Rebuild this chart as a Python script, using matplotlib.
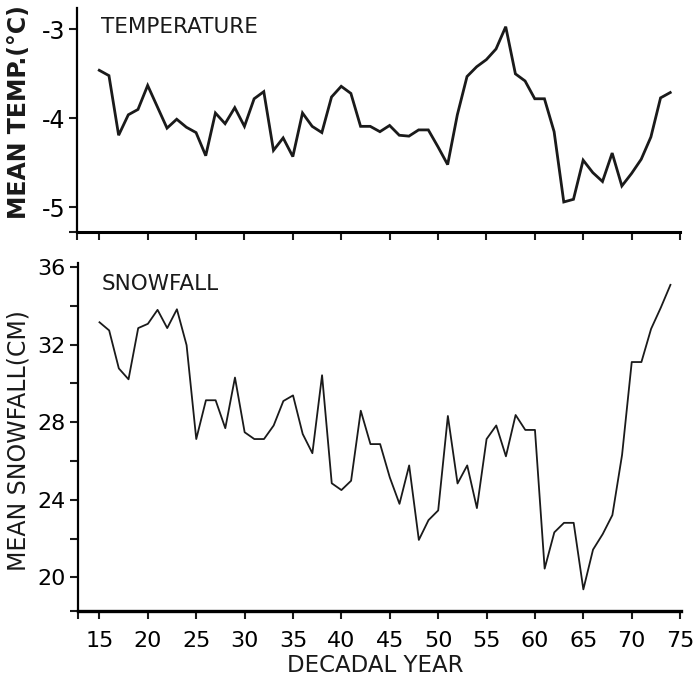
import matplotlib
matplotlib.use("Agg")
import matplotlib.pyplot as plt
from matplotlib.ticker import FixedLocator

# decadal years (mid-year of each 10-yr running window)
years = list(range(15, 75))

mean_temp = [
    -3.46, -3.52, -4.19, -3.96, -3.90, -3.63, -3.87, -4.11, -4.01, -4.10,
    -4.16, -4.42, -3.94, -4.06, -3.88, -4.09, -3.78, -3.70, -4.36, -4.22,
    -4.43, -3.94, -4.09, -4.16, -3.76, -3.64, -3.72, -4.09, -4.09, -4.15,
    -4.08, -4.19, -4.20, -4.13, -4.13, -4.32, -4.52, -3.96, -3.53, -3.42,
    -3.34, -3.22, -2.97, -3.50, -3.58, -3.78, -3.78, -4.15, -4.94, -4.91,
    -4.47, -4.61, -4.71, -4.39, -4.76, -4.62, -4.46, -4.21, -3.77, -3.71,
]

mean_snow = [
    33.15, 32.73, 30.77, 30.21, 32.85, 33.07, 33.79, 32.85, 33.82, 31.97,
    27.13, 29.13, 29.13, 27.69, 30.30, 27.48, 27.13, 27.13, 27.83, 29.09,
    29.38, 27.39, 26.40, 30.42, 24.85, 24.50, 24.98, 28.59, 26.87, 26.87,
    25.15, 23.79, 25.77, 21.93, 22.95, 23.45, 28.32, 24.84, 25.77, 23.57,
    27.13, 27.83, 26.24, 28.37, 27.60, 27.60, 20.45, 22.32, 22.81, 22.81,
    19.38, 21.43, 22.23, 23.21, 26.31, 31.10, 31.10, 32.81, 33.90, 35.08,
]

xticks = list(range(15, 80, 5))
temp_ticks = [-5, -4, -3]
snow_ticks = [20, 24, 28, 32, 36]
snow_minor = [22, 26, 30, 34]

XLIM = (12.73, 75.05)
TEMP_LIM = (-5.274, -2.76)
SNOW_LIM = (18.28, 36.19)

FONT = "DejaVu Sans"


def style_axis(ax, lw):
    ax.spines["top"].set_visible(False)
    ax.spines["right"].set_visible(False)
    ax.spines["left"].set_linewidth(1.6)
    ax.spines["bottom"].set_linewidth(lw)
    ax.tick_params(which="both", direction="out", width=1.5, length=5.5,
                   color="#1a1a1a", labelsize=16, pad=3)
    ax.set_xlim(*XLIM)
    ax.set_xticks(xticks)
    ax.xaxis.set_minor_locator(FixedLocator([XLIM[0]]))


fig = plt.figure(figsize=(6.94, 6.90), dpi=100)
plt.rcParams["font.family"] = FONT

ax1 = fig.add_axes([0.1114, 0.6642, 0.869, 0.3242])
ax2 = fig.add_axes([0.1117, 0.1149, 0.869, 0.5035])

# temperature panel
ax1.plot(years, mean_temp, color="#1a1a1a", lw=2.0, solid_joinstyle="miter")
style_axis(ax1, 2.2)
ax1.set_ylim(*TEMP_LIM)
ax1.set_yticks(temp_ticks)
ax1.set_yticklabels([str(t) for t in temp_ticks])
ax1.yaxis.set_minor_locator(FixedLocator([TEMP_LIM[0]]))
ax1.tick_params(axis="x", labelbottom=False)
ax1.tick_params(axis="y", labelsize=17)
ax1.text(0.04, 0.96, "TEMPERATURE", transform=ax1.transAxes, fontsize=15.5,
         ha="left", va="top", color="#1a1a1a")
fig.text(0.027, 0.838, "MEAN TEMP.(°C)", rotation=90, ha="center", va="center",
         fontsize=17, fontweight="bold", color="#1a1a1a")

# snowfall panel
ax2.plot(years, mean_snow, color="#1a1a1a", lw=1.3)
style_axis(ax2, 2.4)
ax2.set_ylim(*SNOW_LIM)
ax2.set_yticks(snow_ticks)
ax2.set_yticklabels([str(t) for t in snow_ticks])
ax2.yaxis.set_minor_locator(FixedLocator(snow_minor + [SNOW_LIM[0]]))
ax2.set_xticklabels([str(t) for t in xticks])
ax2.tick_params(axis="x", pad=9)
ax2.text(0.04, 0.97, "SNOWFALL", transform=ax2.transAxes, fontsize=15.5,
         ha="left", va="top", color="#1a1a1a")
fig.text(0.027, 0.362, "MEAN SNOWFALL(CM)", rotation=90, ha="center", va="center",
         fontsize=17, color="#1a1a1a")
fig.text(0.54, 0.036, "DECADAL YEAR", ha="center", va="center", fontsize=16.5,
         color="#1a1a1a")

fig.savefig("out.png", dpi=100, facecolor="white")
